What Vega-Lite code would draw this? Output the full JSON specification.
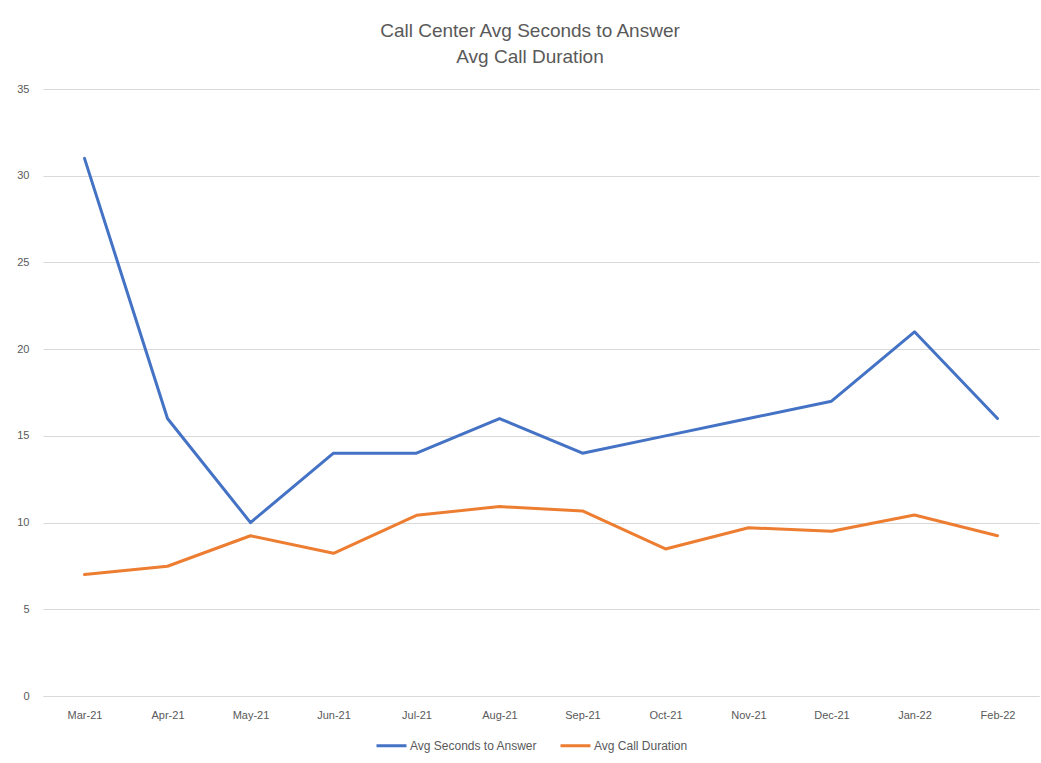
{
  "$schema": "https://vega.github.io/schema/vega-lite/v6.json",
  "width": 996,
  "height": 607,
  "autosize": {"type": "none"},
  "padding": {"left": 43, "top": 89, "right": 2, "bottom": 67},
  "background": "white",
  "title": {
    "text": ["Call Center Avg Seconds to Answer", "Avg Call Duration"],
    "font": "Liberation Sans",
    "fontSize": 19,
    "fontWeight": "normal",
    "color": "#595959",
    "lineHeight": 26,
    "offset": 16,
    "anchor": "middle",
    "dx": -11
  },
  "data": {
    "values": [
      {"month": "Mar-21", "series": "Avg Seconds to Answer", "value": 31},
      {"month": "Apr-21", "series": "Avg Seconds to Answer", "value": 16},
      {"month": "May-21", "series": "Avg Seconds to Answer", "value": 10},
      {"month": "Jun-21", "series": "Avg Seconds to Answer", "value": 14},
      {"month": "Jul-21", "series": "Avg Seconds to Answer", "value": 14},
      {"month": "Aug-21", "series": "Avg Seconds to Answer", "value": 16},
      {"month": "Sep-21", "series": "Avg Seconds to Answer", "value": 14},
      {"month": "Oct-21", "series": "Avg Seconds to Answer", "value": 15},
      {"month": "Nov-21", "series": "Avg Seconds to Answer", "value": 16},
      {"month": "Dec-21", "series": "Avg Seconds to Answer", "value": 17},
      {"month": "Jan-22", "series": "Avg Seconds to Answer", "value": 21},
      {"month": "Feb-22", "series": "Avg Seconds to Answer", "value": 16},
      {"month": "Mar-21", "series": "Avg Call Duration", "value": 7.0},
      {"month": "Apr-21", "series": "Avg Call Duration", "value": 7.48},
      {"month": "May-21", "series": "Avg Call Duration", "value": 9.24},
      {"month": "Jun-21", "series": "Avg Call Duration", "value": 8.23},
      {"month": "Jul-21", "series": "Avg Call Duration", "value": 10.42},
      {"month": "Aug-21", "series": "Avg Call Duration", "value": 10.92},
      {"month": "Sep-21", "series": "Avg Call Duration", "value": 10.67},
      {"month": "Oct-21", "series": "Avg Call Duration", "value": 8.48},
      {"month": "Nov-21", "series": "Avg Call Duration", "value": 9.7},
      {"month": "Dec-21", "series": "Avg Call Duration", "value": 9.5},
      {"month": "Jan-22", "series": "Avg Call Duration", "value": 10.44},
      {"month": "Feb-22", "series": "Avg Call Duration", "value": 9.24}
    ]
  },
  "mark": {"type": "line", "strokeWidth": 3, "strokeCap": "round", "strokeJoin": "round"},
  "encoding": {
    "x": {
      "field": "month",
      "type": "ordinal",
      "sort": null,
      "scale": {"padding": 0.5},
      "axis": {
        "title": null,
        "labelAngle": 0,
        "domain": true,
        "domainColor": "#d9d9d9",
        "ticks": false,
        "grid": false,
        "labelPadding": 13,
        "labelFont": "Liberation Sans",
        "labelFontSize": 11,
        "labelColor": "#595959"
      }
    },
    "y": {
      "field": "value",
      "type": "quantitative",
      "scale": {"domain": [0, 35], "nice": false},
      "axis": {
        "title": null,
        "values": [0, 5, 10, 15, 20, 25, 30, 35],
        "domain": false,
        "ticks": false,
        "grid": true,
        "gridColor": "#d9d9d9",
        "labelPadding": 14,
        "labelFont": "Liberation Sans",
        "labelFontSize": 11,
        "labelColor": "#595959"
      }
    },
    "color": {
      "field": "series",
      "type": "nominal",
      "sort": ["Avg Seconds to Answer", "Avg Call Duration"],
      "scale": {"domain": ["Avg Seconds to Answer", "Avg Call Duration"], "range": ["#4472C4", "#ED7D31"]},
      "legend": {
        "title": null,
        "orient": "none",
        "legendX": 332,
        "legendY": 640,
        "direction": "horizontal",
        "symbolType": "stroke",
        "symbolStrokeWidth": 3,
        "symbolSize": 900,
        "labelOffset": 2,
        "labelFont": "Liberation Sans",
        "labelFontSize": 12,
        "labelColor": "#595959",
        "columnPadding": 16
      }
    }
  },
  "config": {"view": {"stroke": null}}
}
